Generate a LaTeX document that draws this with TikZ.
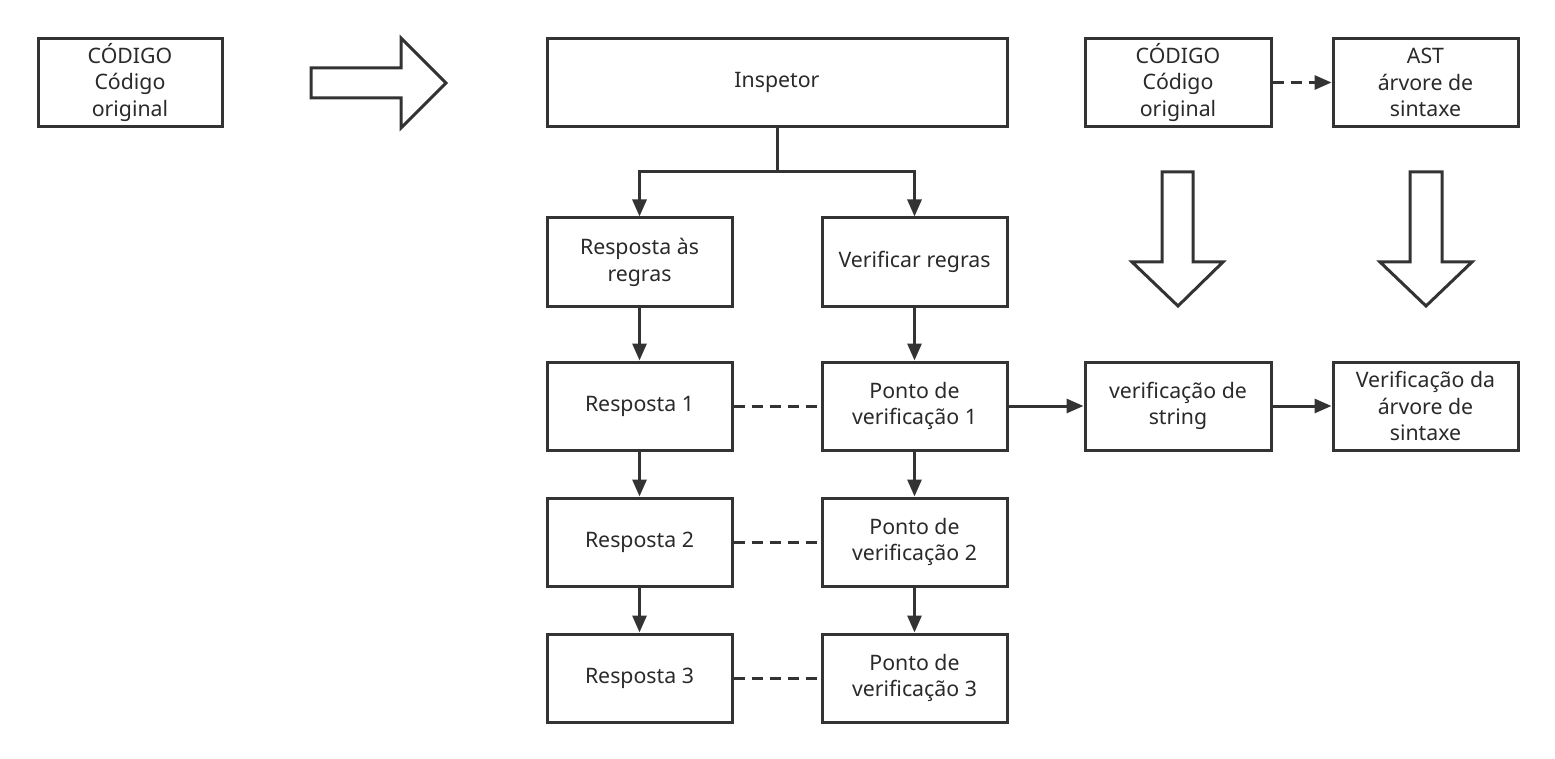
\documentclass[tikz,border=0pt]{standalone}
\usepackage{fontspec}
\setmainfont{Noto Sans}
\usetikzlibrary{arrows.meta}
\definecolor{ln}{HTML}{333333}
\definecolor{tx}{HTML}{2a2a2a}
\begin{document}
\begin{tikzpicture}[x=1pt,y=-1pt,
  box/.style={draw=ln,line width=3pt,fill=white,minimum width=#1,minimum height=88pt,inner sep=0pt,align=center,text=tx,font=\fontsize{21.3}{26.8}\selectfont},
  box/.default=185pt,
  conn/.style={draw=ln,line width=3pt,-{Triangle[length=17pt,width=14pt]}},
  dconn/.style={draw=ln,line width=3pt,dash pattern=on 11pt off 7pt},
  bigarrow/.style={draw=ln,line width=3pt,fill=white,line join=miter}]
\useasboundingbox (0,0) rectangle (1555,759);
% top row
\node[box=184pt] (code1) at (130,82.5) {CÓDIGO\\Código\\original};
\node[box=460pt] (insp) at (777,82.5) {Inspetor};
\node[box=186pt] (code2) at (1178,82.5) {CÓDIGO\\Código\\original};
\node[box=185pt] (ast) at (1425.5,82.5) {AST\\árvore de\\sintaxe};
% block arrows
\draw[bigarrow] (311,68) -- (401,68) -- (401,38) -- (446,83) -- (401,128) -- (401,98) -- (311,98) -- cycle;
\draw[bigarrow] (1162,172) -- (1193,172) -- (1193,262) -- (1223,262) -- (1178,306) -- (1132,262) -- (1162,262) -- cycle;
\draw[bigarrow] (1410,172) -- (1442,172) -- (1442,262) -- (1472,262) -- (1426,306) -- (1380,262) -- (1410,262) -- cycle;
% columns
\node[box] (rr) at (639.5,262) {Resposta às\\regras};
\node[box] (vr) at (914.5,262) {Verificar regras};
\node[box] (r1) at (639.5,406) {Resposta 1};
\node[box] (p1) at (914.5,406) {Ponto de\\verificação 1};
\node[box=186pt] (vs) at (1178,406) {verificação de\\string};
\node[box] (va) at (1425.5,406) {Verificação da\\árvore de\\sintaxe};
\node[box] (r2) at (639.5,542) {Resposta 2};
\node[box] (p2) at (914.5,542) {Ponto de\\verificação 2};
\node[box] (r3) at (639.5,678) {Resposta 3};
\node[box] (p3) at (914.5,678) {Ponto de\\verificação 3};
% connectors
\coordinate (split) at (insp.south |- 0,172);
\draw[draw=ln,line width=3pt] (insp.south) -- (split);
\draw[conn] (split) -| (rr.north);
\draw[conn] (split) -| (vr.north);
\draw[conn] (rr) -- (r1);
\draw[conn] (r1) -- (r2);
\draw[conn] (r2) -- (r3);
\draw[conn] (vr) -- (p1);
\draw[conn] (p1) -- (p2);
\draw[conn] (p2) -- (p3);
\draw[dconn] (r1) -- (p1);
\draw[dconn] (r2) -- (p2);
\draw[dconn] (r3) -- (p3);
\draw[conn] (p1) -- (vs);
\draw[conn] (vs) -- (va);
\draw[conn,dash pattern=on 11pt off 7pt] (code2) -- (ast);
\end{tikzpicture}
\end{document}
